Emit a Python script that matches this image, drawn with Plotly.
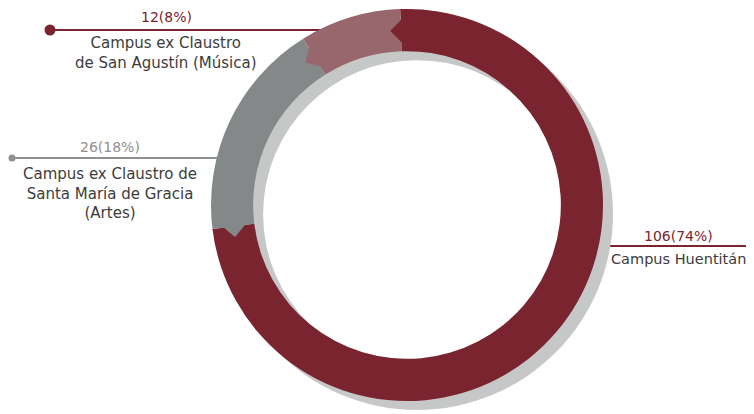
import math
import plotly.graph_objects as go

# ---- data ----
campuses = ["Campus Huentitán",
            "Campus ex Claustro de Santa María de Gracia (Artes)",
            "Campus ex Claustro de San Agustín (Música)"]
counts = [106, 26, 12]
percents = [74, 18, 8]
slice_colors = ["#7A2430", "#858889", "#98676D"]
value_labels = ["106(74%)", "26(18%)", "12(8%)"]
name_labels = ["Campus Huentitán",
               "Campus ex Claustro de<br>Santa María de Gracia<br>(Artes)",
               "Campus ex Claustro<br>de San Agustín (Música)"]
label_colors = ["#7A2430", "#8E9092", "#7A2430"]
name_sizes = [14.5, 15, 15]

W, H = 754, 414
OFF = 8  # page body margin
CX, CY, R = 407, 205, 196
HOLE = 0.785
SHX, SHY = 10, 9
ROT = -2


def px(x):
    return (x - OFF) / W


def py(y):
    return 1 - (y - OFF) / H


fig = go.Figure()
# shadow ring
fig.add_trace(go.Pie(values=[1], marker=dict(colors=["#C6C8C7"]), hole=HOLE,
                     sort=False, textinfo="none", hoverinfo="skip", showlegend=False,
                     domain=dict(x=[px(CX + SHX - R), px(CX + SHX + R)],
                                 y=[py(CY + SHY + R), py(CY + SHY - R)])))
# main ring
fig.add_trace(go.Pie(values=counts, labels=campuses, marker=dict(colors=slice_colors),
                     hole=HOLE, sort=False, direction="clockwise", rotation=ROT,
                     textinfo="none", showlegend=False,
                     domain=dict(x=[px(CX - R), px(CX + R)],
                                 y=[py(CY + R), py(CY - R)])))

shapes = []
# chevrons at the start of each slice, derived from the data
total = sum(counts)
start = ROT
r_in = R * HOLE
r_mid = (R + r_in) / 2
delta = 7
for v, col in zip(counts, slice_colors):
    def pt(rad, ang):
        a = math.radians(ang)
        return CX + rad * math.sin(a), CY - rad * math.cos(a)
    o = pt(R + 0.5, start + delta / 2)
    t = pt(r_mid, start - delta / 2)
    i = pt(r_in - 0.5, start + delta / 2)
    path = "M {} {} L {} {} L {} {} Z".format(px(o[0]), py(o[1]), px(t[0]), py(t[1]), px(i[0]), py(i[1]))
    shapes.append(dict(type="path", path=path, xref="paper", yref="paper",
                       fillcolor=col, line=dict(width=0), layer="above"))
    start += v / total * 360

# leader lines (pixel positions of labels)
leaders = [  # (x0, x1, y, dot_x, dot_r, color)
    (600, 752, 246, 751, 5, "#7A2430"),
    (12, 222, 158, 12, 3.5, "#8E9092"),
    (50, 335, 30, 50, 5.5, "#7A2430"),
]
for x0, x1, y, dx, rr, col in leaders:
    shapes.append(dict(type="line", xref="paper", yref="paper", x0=px(x0), x1=px(x1),
                       y0=py(y), y1=py(y), line=dict(color=col, width=2), layer="below"))
    shapes.append(dict(type="circle", xref="paper", yref="paper", x0=px(dx - rr), x1=px(dx + rr),
                       y0=py(y + rr), y1=py(y - rr), fillcolor=col, line=dict(width=0)))

label_pos = [  # (center x, value y, name center y)
    (678, 236, 259),
    (110, 147, 193),
    (166, 17.5, 52.5),
]
annotations = []
for (x, vy, ny), vl, nl, lc, ns in zip(label_pos, value_labels, name_labels, label_colors, name_sizes):
    annotations.append(dict(x=px(x), y=py(vy), xref="paper", yref="paper", text=vl,
                            showarrow=False, xanchor="center", yanchor="middle",
                            font=dict(family="DejaVu Sans", size=14, color=lc)))
    annotations.append(dict(x=px(x), y=py(ny), xref="paper", yref="paper", text=nl,
                            showarrow=False, xanchor="center", yanchor="middle", align="center",
                            font=dict(family="DejaVu Sans", size=ns, color="#3C3C3C")))

fig.update_layout(width=W, height=H, margin=dict(l=0, r=0, t=0, b=0),
                  paper_bgcolor="white", plot_bgcolor="white",
                  shapes=shapes, annotations=annotations, showlegend=False)
fig.write_html("out.html")
